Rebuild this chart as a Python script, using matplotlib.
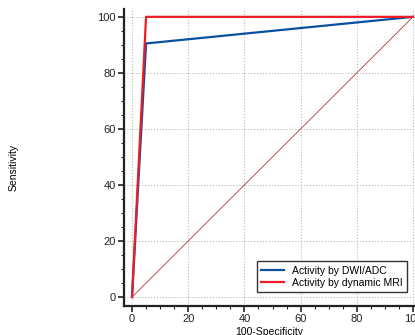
"""ROC curves for activity detection by DWI/ADC and dynamic MRI
"""
import matplotlib
matplotlib.use("Agg")
import matplotlib.pyplot as plt
from matplotlib.ticker import MultipleLocator

plt.rcParams['font.family'] = ['Liberation Sans', 'DejaVu Sans']

# ROC points (100-Specificity, Sensitivity)
fpr_dwi = [0, 5, 100]
tpr_dwi = [0, 90.5, 100]
fpr_mri = [0, 5, 100]
tpr_mri = [0, 100, 100]
diag = [0, 100]

labels = ['Activity by DWI/ADC', 'Activity by dynamic MRI']
colors = ['#0a4fa0', '#ee1c25']

W, H = 415, 335
fig = plt.figure(figsize=(W / 100, H / 100), dpi=100)
ax = fig.add_axes([124 / W, 29 / H, (W - 124) / W, (306 - 9) / H])

ax.plot(diag, diag, color='#a01818', lw=0.6, alpha=0.85, zorder=2)
ax.plot(fpr_dwi, tpr_dwi, color=colors[0], lw=1.6, label=labels[0], zorder=3)
ax.plot(fpr_mri, tpr_mri, color=colors[1], lw=1.6, label=labels[1], zorder=4)

ax.set_xlim(-2.85, 100.7)
ax.set_ylim(-3.2, 102.8)
ax.xaxis.set_major_locator(MultipleLocator(20))
ax.yaxis.set_major_locator(MultipleLocator(20))
ax.xaxis.set_minor_locator(MultipleLocator(5))
ax.yaxis.set_minor_locator(MultipleLocator(5))

ax.grid(True, which='major', color='#b8b8b8', ls=':', lw=0.8)
ax.tick_params(which='major', length=4, width=1.2, labelsize=8, pad=2,
               colors='#222222')
ax.tick_params(which='minor', length=2.5, width=0.8, colors='#222222')

for s in ['top', 'right']:
    ax.spines[s].set_visible(False)
for s in ['left', 'bottom']:
    ax.spines[s].set_linewidth(1.6)
    ax.spines[s].set_color('#222222')

ax.set_xlabel('100-Specificity', fontsize=7.5, labelpad=2)
fig.text(14 / W, 0.5, 'Sensitivity', rotation=90, fontsize=7.5,
         ha='center', va='center')

leg = ax.legend(loc='lower right', fontsize=7.5, fancybox=False,
                framealpha=1, edgecolor='#333333', borderpad=0.4,
                handlelength=2.2, labelspacing=0.2,
                bbox_to_anchor=(0.99, 0.03))
leg.get_frame().set_linewidth(1.0)

fig.savefig('out.png', dpi=100)
plt.close(fig)
